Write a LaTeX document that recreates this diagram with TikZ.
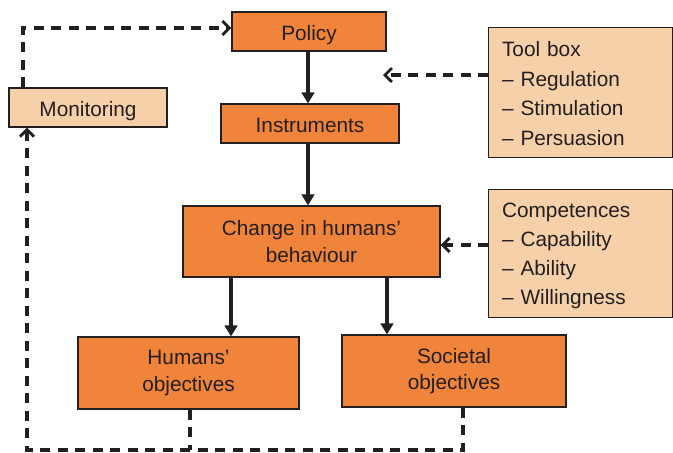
\documentclass[tikz,border=0pt]{standalone}
\usepackage{fontspec}
\setmainfont{Liberation Sans}
\usetikzlibrary{arrows.meta}
\definecolor{boxorange}{HTML}{F0843A}
\definecolor{boxtan}{HTML}{F5D0A9}
\definecolor{edge}{HTML}{231F20}
\begin{document}
\begin{tikzpicture}[x=1pt,y=-1pt,
  every node/.style={font=\fontsize{20.8}{26.5}\selectfont, text=edge},
  obox/.style={draw=edge, line width=1.1pt, fill=boxorange, align=center, inner sep=0pt},
  single/.style={text height=18pt, text depth=0pt},
  tbox/.style={draw=edge, line width=1.1pt, fill=boxtan, inner sep=0pt},
  listbox/.style={draw=edge, line width=1.1pt, fill=boxtan, align=left, inner xsep=13.5pt, inner ysep=0pt,
    text width=157pt, minimum height=#1, text height=17pt, font=\fontsize{20.8}{29.5}\selectfont},
  solidarrow/.style={draw=edge, line width=3.2pt, -{Triangle[length=11pt,width=12.5pt]}},
  dasharrow/.style={draw=edge, line width=3.2pt, dash pattern=on 10pt off 7.5pt, -{Straight Barb[length=7pt,width=14pt,line width=2.8pt]}},
  dashline/.style={draw=edge, line width=3.2pt, dash pattern=on 10pt off 7.5pt}]
\useasboundingbox (0,0) rectangle (673,453);
\node[obox, single, minimum width=154pt, minimum height=39pt] (policy) at (309,31.5) {Policy};
\node[obox, single, minimum width=178pt, minimum height=39pt] (instr) at (310,123.5) {Instruments};
\node[tbox, single, minimum width=158pt, minimum height=39pt] (mon) at (88,107.5) {Monitoring};
\node[obox, minimum width=257pt, minimum height=71pt] (change) at (311.5,241.5) {Change in humans’\\behaviour};
\node[obox, minimum width=221pt, minimum height=72pt] (hum) at (188.5,373) {Humans’\\objectives};
\node[obox, minimum width=224pt, minimum height=72pt] (soc) at (454,371) {Societal\\objectives};
\node[listbox=130pt, anchor=north west] (tool) at (488,27) {Tool box\\– Regulation\\– Stimulation\\– Persuasion};
\node[listbox=128pt, anchor=north west, text height=21pt, font=\fontsize{20.8}{29}\selectfont] (comp) at (488,188.5) {Competences\\– Capability\\– Ability\\– Willingness};
\coordinate (tooltip) at (383,75);
\draw[solidarrow] (policy.south -| 308,0) -- (instr.north -| 308,0);
\draw[solidarrow] (instr.south -| 308,0) -- (change.north -| 308,0);
\draw[solidarrow] (change.south -| 231,0) -- (hum.north -| 231,0);
\draw[solidarrow] (change.south -| 387,0) -- (soc.north -| 387,0);
\draw[dasharrow] (tool.west |- tooltip) -- (tooltip);
\draw[dasharrow] (comp.west |- 0,245) -- (change.east |- 0,245);
\draw[dasharrow] (mon.north -| 23,0) |- (policy.west |- 0,28);
\draw[dashline] (hum.south -| 190,0) -- (190,450);
\draw[dasharrow] (soc.south -| 463,0) |- (27,450) -- (mon.south -| 27,0);
\end{tikzpicture}
\end{document}
